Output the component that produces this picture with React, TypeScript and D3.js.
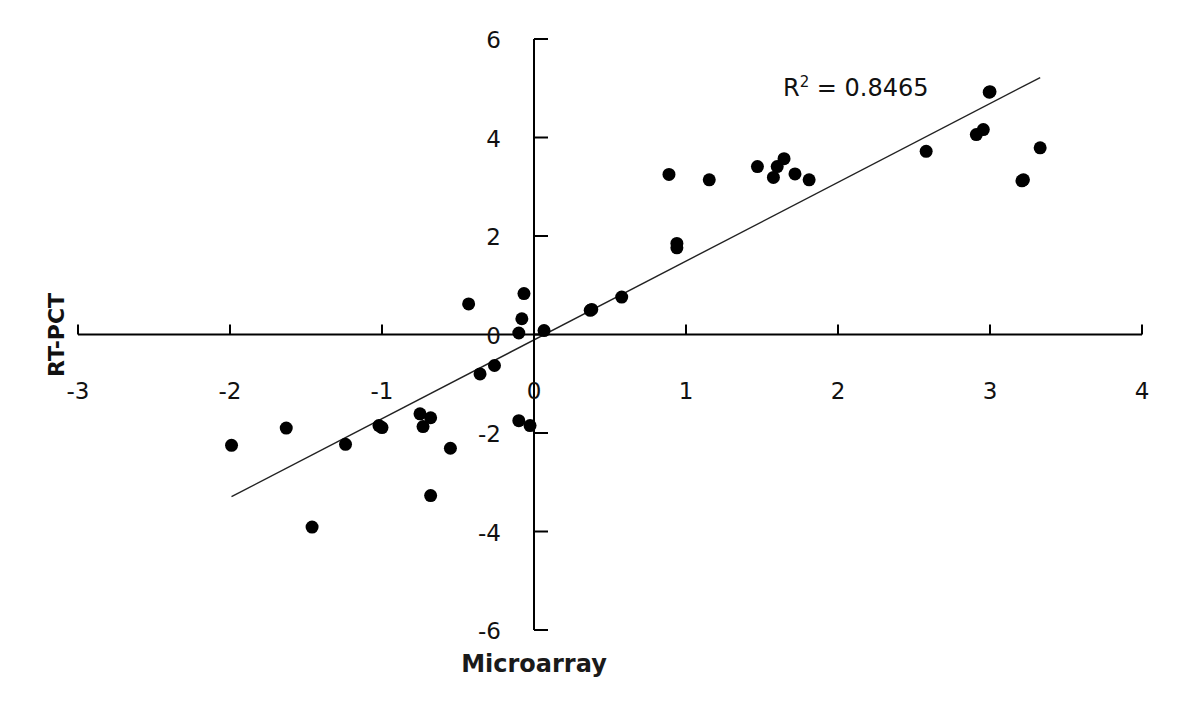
import { useEffect, useRef } from "react";
import * as d3 from "d3";

// Microarray (x) vs RT-PCT (y) log ratios
const microarray = [
  -1.99, -1.63, -1.46, -1.24, -1.02, -1.0, -0.75, -0.68, -0.73, -0.55,
  -0.68, -0.066, -0.43, -0.08, -0.10, 0.066, -0.26, -0.355, -0.10, -0.026,
  0.37, 0.38, 0.577, 0.94, 0.94, 0.888, 1.153, 1.47, 1.575, 1.60,
  1.645, 1.717, 1.81, 2.995, 3.0, 2.956, 2.91, 2.58, 3.33, 3.21, 3.22,
];
const rtpct = [
  -2.25, -1.90, -3.91, -2.23, -1.85, -1.89, -1.61, -1.69, -1.87, -2.31,
  -3.27, 0.83, 0.62, 0.32, 0.03, 0.08, -0.63, -0.80, -1.75, -1.85,
  0.49, 0.51, 0.76, 1.85, 1.76, 3.25, 3.14, 3.41, 3.19, 3.41,
  3.57, 3.26, 3.14, 4.92, 4.93, 4.16, 4.06, 3.72, 3.79, 3.12, 3.14,
];
const xTicks = [-3, -2, -1, 0, 1, 2, 3, 4];
const yTicks = [-6, -4, -2, 0, 2, 4, 6];
// linear trend as drawn in the figure
const trendSlope = 1.6;
const trendIntercept = -0.11;
const rSquared = "0.8465";

export default function App() {
  const svgRef = useRef<SVGSVGElement>(null);

  useEffect(() => {
    if (!svgRef.current) return;
    const svg = d3.select(svgRef.current);
    svg.selectAll("*").remove();

    const x = d3.scaleLinear().domain([-3, 4]).range([78, 1142]);
    const y = d3.scaleLinear().domain([-6, 6]).range([630, 39]);
    const font = "'DejaVu Sans', Tahoma, sans-serif";

    const [x0, x1] = d3.extent(microarray) as [number, number];
    svg.append("line")
      .attr("x1", x(x0)).attr("y1", y(trendIntercept + trendSlope * x0))
      .attr("x2", x(x1)).attr("y2", y(trendIntercept + trendSlope * x1))
      .attr("stroke", "#222").attr("stroke-width", 1.4);

    // axes crossing at origin
    svg.append("line")
      .attr("x1", x(-3)).attr("x2", x(4))
      .attr("y1", y(0)).attr("y2", y(0))
      .attr("stroke", "#000").attr("stroke-width", 2);
    svg.append("line")
      .attr("x1", x(0)).attr("x2", x(0))
      .attr("y1", y(6)).attr("y2", y(-6))
      .attr("stroke", "#000").attr("stroke-width", 2);

    svg.selectAll(".xtick")
      .data(xTicks)
      .enter().append("line")
      .attr("x1", d => x(d)).attr("x2", d => x(d))
      .attr("y1", y(0)).attr("y2", y(0) - 10)
      .attr("stroke", "#000").attr("stroke-width", 2);
    svg.selectAll(".ytick")
      .data(yTicks)
      .enter().append("line")
      .attr("x1", x(0)).attr("x2", x(0) + 14)
      .attr("y1", d => y(d)).attr("y2", d => y(d))
      .attr("stroke", "#000").attr("stroke-width", 2);

    svg.selectAll(".xlab")
      .data(xTicks)
      .enter().append("text")
      .attr("x", d => x(d)).attr("y", y(0) + 64)
      .attr("text-anchor", "middle")
      .style("font-family", font).style("font-size", "23px").style("fill", "#111")
      .text(d => d);
    svg.selectAll(".ylab")
      .data(yTicks)
      .enter().append("text")
      .attr("x", x(0) - 33).attr("y", d => y(d) + 9)
      .attr("text-anchor", "end")
      .style("font-family", font).style("font-size", "23px").style("fill", "#111")
      .text(d => d);

    // points
    svg.selectAll(".pt")
      .data(microarray.map((v, i) => [v, rtpct[i]]))
      .enter().append("circle")
      .attr("cx", d => x(d[0])).attr("cy", d => y(d[1]))
      .attr("r", 6.5).attr("fill", "#000");

    // titles
    svg.append("text")
      .attr("x", x(0)).attr("y", 672)
      .attr("text-anchor", "middle")
      .style("font-family", font).style("font-size", "24px").style("font-weight", "bold").style("fill", "#1a1a1a")
      .text("Microarray");
    svg.append("text")
      .attr("transform", `translate(64,335) rotate(-90)`)
      .attr("text-anchor", "middle")
      .style("font-family", font).style("font-size", "22px").style("font-weight", "bold").style("fill", "#111")
      .text("RT-PCT");

    const r2 = svg.append("text")
      .attr("x", 783).attr("y", 96)
      .style("font-family", font).style("font-size", "24px").style("fill", "#111");
    r2.append("tspan").text("R");
    r2.append("tspan").attr("dy", -9).style("font-size", "15px").text("2");
    r2.append("tspan").attr("dy", 9).text(` = ${rSquared}`);
  }, []);

  return (
    <svg ref={svgRef} width={1200} height={719}
      style={{ position: "absolute", left: 0, top: 0, background: "#fff" }} />
  );
}
